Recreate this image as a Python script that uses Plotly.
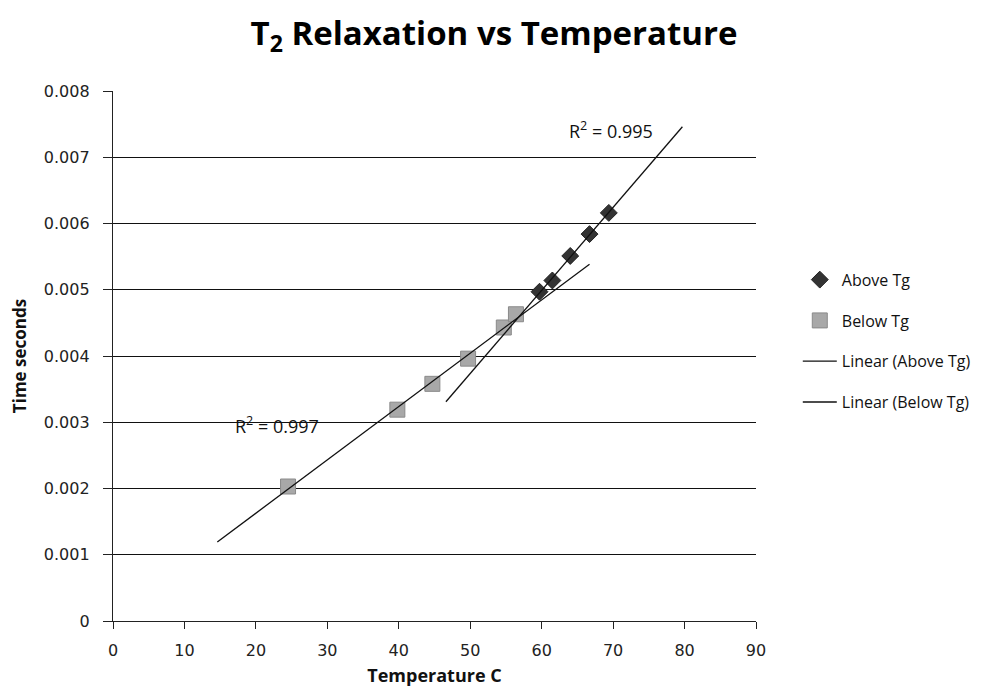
import numpy as np
import plotly.graph_objects as go

# Data
above_temp = [59.7, 61.5, 64.0, 66.7, 69.4]
above_time = [0.00497, 0.00514, 0.00551, 0.00584, 0.00616]
below_temp = [24.5, 39.8, 44.7, 49.7, 54.7, 56.4]
below_time = [0.00203, 0.00319, 0.00358, 0.00396, 0.00443, 0.00463]

x_ticks = [0, 10, 20, 30, 40, 50, 60, 70, 80, 90]
y_ticks = [0, 0.001, 0.002, 0.003, 0.004, 0.005, 0.006, 0.007, 0.008]
y_ticktext = ["0", "0.001", "0.002", "0.003", "0.004", "0.005", "0.006", "0.007", "0.008"]

# trendline forecast (backward, forward) in degrees
above_forecast = (13.1, 10.3)
below_forecast = (9.9, 10.3)


def trend(xs, ys, back, fwd):
    m, b = np.polyfit(xs, ys, 1)
    x0, x1 = min(xs) - back, max(xs) + fwd
    return [x0, x1], [m * x0 + b, m * x1 + b]


ax_x, ax_y = trend(above_temp, above_time, *above_forecast)
bx_x, bx_y = trend(below_temp, below_time, *below_forecast)

SANS = "'Open Sans', Lato, sans-serif"

fig = go.Figure()
fig.add_trace(go.Scatter(
    x=above_temp, y=above_time, mode="markers", name="Above Tg",
    marker=dict(symbol="diamond", size=13, color="#333333",
                line=dict(color="#222222", width=1)),
    legendgroup="a"))
fig.add_trace(go.Scatter(
    x=below_temp, y=below_time, mode="markers", name="Below Tg",
    marker=dict(symbol="square", size=15, color="#a8a8a8",
                line=dict(color="#8a8a8a", width=1)),
    legendgroup="b"))
fig.add_trace(go.Scatter(
    x=ax_x, y=ax_y, mode="lines", name="Linear (Above Tg)",
    line=dict(color="#111111", width=1.3), legendgroup="c"))
fig.add_trace(go.Scatter(
    x=bx_x, y=bx_y, mode="lines", name="Linear (Below Tg)",
    line=dict(color="#111111", width=1.3), legendgroup="d"))

fig.add_annotation(x=69.7, y=0.00741, text="R<sup>2</sup> = 0.995", showarrow=False,
                   font=dict(family=SANS, size=18, color="#111"))
fig.add_annotation(x=23.0, y=0.00296, text="R<sup>2</sup> = 0.997", showarrow=False,
                   font=dict(family=SANS, size=18, color="#111"))

fig.update_layout(
    width=1005, height=688,
    paper_bgcolor="white", plot_bgcolor="white",
    margin=dict(l=105, r=257, t=83, b=75),
    title=dict(text="<b>T<sub>2</sub> Relaxation vs Temperature</b>",
               x=0.4836, xanchor="center", y=0.963, yanchor="middle",
               font=dict(family=SANS, size=33, color="#000")),
    showlegend=True,
    legend=dict(x=1.065, xanchor="left", y=0.676, yanchor="top",
                font=dict(family=SANS, size=16, color="#111"),
                tracegroupgap=17, bgcolor="rgba(0,0,0,0)", itemwidth=34),
    xaxis=dict(range=[0, 90], tickvals=x_ticks, showgrid=False, zeroline=False,
               showline=True, linecolor="#222", linewidth=1.3,
               ticks="outside", ticklen=7, tickcolor="#222", ticklabelstandoff=8,
               tickfont=dict(family="DejaVu Sans", size=16, color="#222"),
               title=dict(text="<b>Temperature C</b>", standoff=10,
                          font=dict(family=SANS, size=18, color="#111"))),
    yaxis=dict(range=[0, 0.008], tickvals=y_ticks, ticktext=y_ticktext,
               showgrid=True, gridcolor="#111", gridwidth=1.2, zeroline=False,
               showline=True, linecolor="#222", linewidth=1.3,
               ticks="outside", ticklen=9, tickcolor="#222", ticklabelstandoff=10,
               tickfont=dict(family="DejaVu Sans", size=16, color="#222"),
               title=dict(text="<b>Time seconds</b>", standoff=12,
                          font=dict(family=SANS, size=17, color="#111"))),
)

fig.write_html("out.html")
